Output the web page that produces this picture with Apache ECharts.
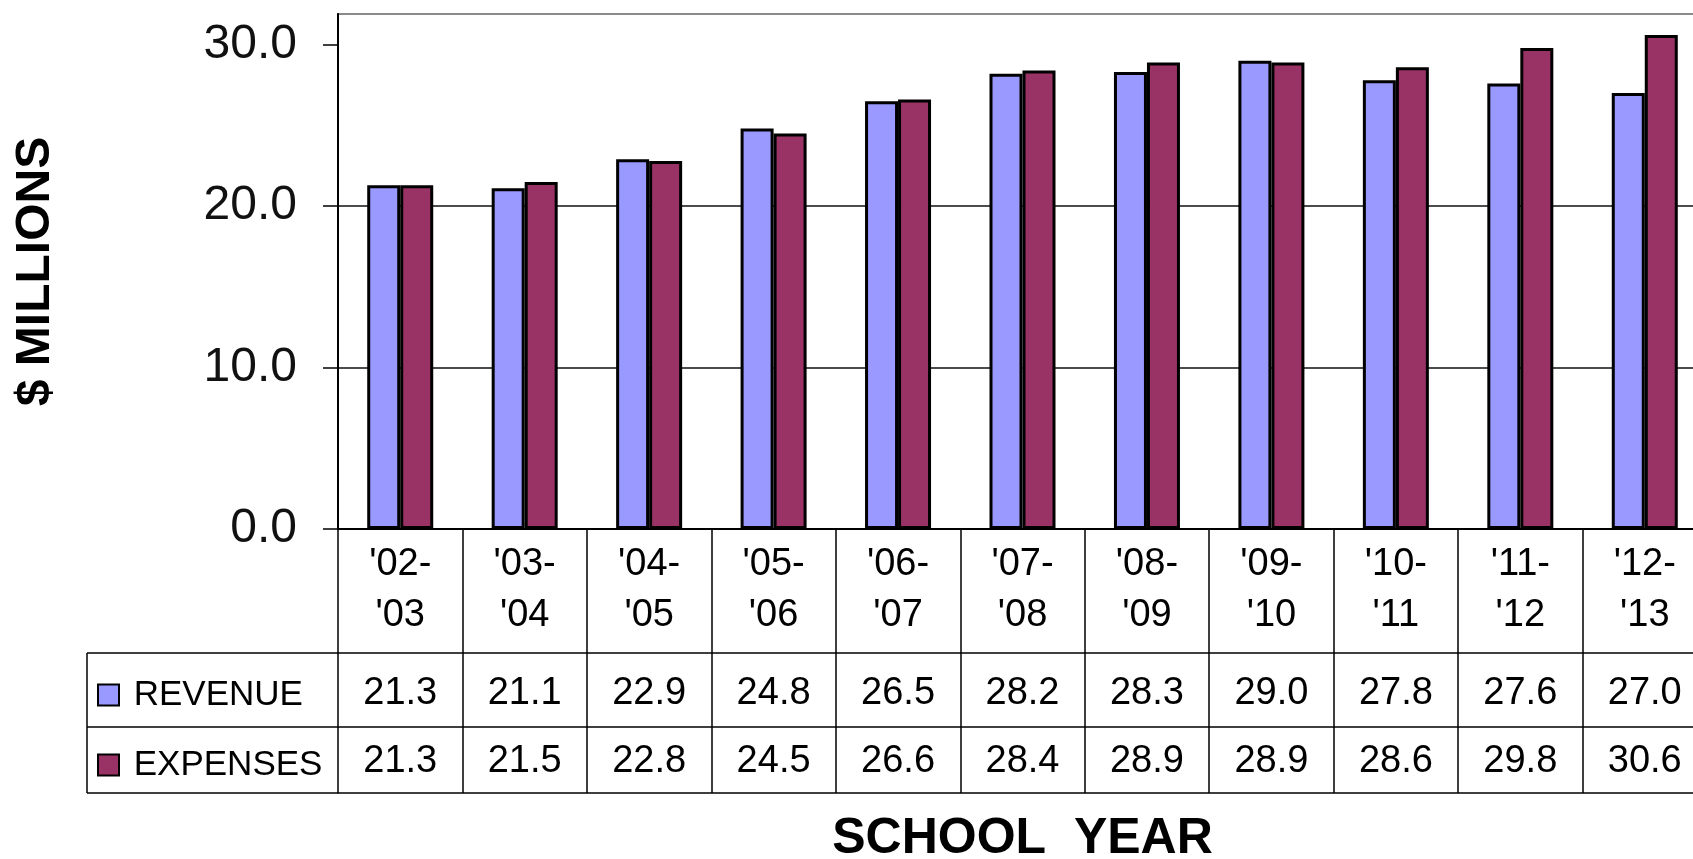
<!DOCTYPE html>
<html>
<head>
<meta charset="utf-8">
<style>
  html, body { margin: 0; padding: 0; background: #fff; }
  #chart { width: 1693px; height: 859px; }
</style>
<script src="https://cdn.jsdelivr.net/npm/echarts@6/dist/echarts.min.js"></script>
</head>
<body>
<div id="chart"></div>
<script>
const categories = ["'02-\n'03", "'03-\n'04", "'04-\n'05", "'05-\n'06", "'06-\n'07", "'07-\n'08", "'08-\n'09", "'09-\n'10", "'10-\n'11", "'11-\n'12", "'12-\n'13"];
const revenue = [21.3, 21.1, 22.9, 24.8, 26.5, 28.2, 28.3, 29.0, 27.8, 27.6, 27.0];
const expenses = [21.3, 21.5, 22.8, 24.5, 26.6, 28.4, 28.9, 28.9, 28.6, 29.8, 30.6];
const yTicks = [0, 10, 20, 30];
const seriesNames = ['REVENUE', 'EXPENSES'];

const FONT = '"Liberation Sans", Arial, sans-serif';
const chart = echarts.init(document.getElementById('chart'), null, { renderer: 'canvas' });

const tableX0 = 87, axisX = 338;
const rowLines = [653, 727, 793];

const option = {
  backgroundColor: '#ffffff',
  animation: false,
  textStyle: { fontFamily: FONT },
  grid: {
    left: axisX, top: 14, right: -14, bottom: 330,
    containLabel: false, outerBoundsMode: 'none',
    show: true, borderColor: '#8a8a8a', borderWidth: 2, backgroundColor: 'transparent'
  },
  legend: {
    orient: 'vertical',
    left: 97, top: 677,
    padding: 0,
    itemWidth: 21, itemHeight: 21,
    itemGap: 34,
    icon: 'rect',
    data: seriesNames,
    formatter: name => '\u00A0' + name,
    textStyle: { fontFamily: FONT, fontSize: 35, lineHeight: 36, color: '#000' }
  },
  xAxis: [
    {
      type: 'category', data: categories, position: 'bottom',
      axisLine: { show: true, lineStyle: { color: '#000', width: 2 } },
      axisTick: { show: true, length: 264, lineStyle: { color: '#000', width: 1.5 } },
      axisLabel: { interval: 0, fontFamily: FONT, fontSize: 38, lineHeight: 51, margin: 10, color: '#000' },
      splitLine: { show: false }
    },
    {
      type: 'category', data: categories, position: 'bottom', offset: rowLines[0] - 529,
      axisLine: { show: true, lineStyle: { color: '#000', width: 1.5 } },
      axisTick: { show: false },
      axisLabel: { interval: 0, fontFamily: FONT, fontSize: 38, lineHeight: 38, margin: 22, color: '#000',
        formatter: (v, i) => revenue[i].toFixed(1) }
    },
    {
      type: 'category', data: categories, position: 'bottom', offset: rowLines[1] - 529,
      axisLine: { show: true, lineStyle: { color: '#000', width: 1.5 } },
      axisTick: { show: false },
      axisLabel: { interval: 0, fontFamily: FONT, fontSize: 38, lineHeight: 38, margin: 16, color: '#000',
        formatter: (v, i) => expenses[i].toFixed(1) }
    },
    {
      type: 'category', data: categories, position: 'bottom', offset: rowLines[2] - 529,
      axisLine: { show: true, lineStyle: { color: '#000', width: 1.5 } },
      axisTick: { show: false },
      axisLabel: { show: false },
      name: 'SCHOOL  YEAR', nameLocation: 'middle', nameGap: 21,
      nameTextStyle: { fontFamily: FONT, fontSize: 50, fontWeight: 'bold', color: '#000', lineHeight: 50 }
    }
  ],
  yAxis: {
    type: 'value', min: 0, max: 31.9, interval: 10,
    axisLine: { show: true, lineStyle: { color: '#000', width: 2 } },
    axisTick: { show: true, length: 15, customValues: yTicks, lineStyle: { color: '#000', width: 1.5 } },
    axisLabel: { customValues: yTicks, fontFamily: FONT, fontSize: 48, margin: 41, color: '#111',
      formatter: v => Number(v).toFixed(1) },
    splitLine: { show: true, showMaxLine: false, lineStyle: { color: '#111', width: 1.5 } },
    name: '$ MILLIONS', nameLocation: 'middle', nameRotate: 90, nameGap: 278,
    nameTextStyle: { fontFamily: FONT, fontSize: 48, fontWeight: 'bold', color: '#000' }
  },
  series: [
    {
      name: seriesNames[0], type: 'bar', data: revenue, barWidth: 33, barGap: '0%',
      itemStyle: { color: '#9999FF', borderColor: '#000', borderWidth: 3 }
    },
    {
      name: seriesNames[1], type: 'bar', data: expenses, barWidth: 33, barGap: '0%',
      itemStyle: { color: '#993366', borderColor: '#000', borderWidth: 3 }
    }
  ],
  graphic: [
    { type: 'line', shape: { x1: tableX0, y1: rowLines[0], x2: axisX, y2: rowLines[0] }, style: { stroke: '#000', lineWidth: 1.5 } },
    { type: 'line', shape: { x1: tableX0, y1: rowLines[1], x2: axisX, y2: rowLines[1] }, style: { stroke: '#000', lineWidth: 1.5 } },
    { type: 'line', shape: { x1: tableX0, y1: rowLines[2], x2: axisX, y2: rowLines[2] }, style: { stroke: '#000', lineWidth: 1.5 } },
    { type: 'line', shape: { x1: tableX0, y1: rowLines[0], x2: tableX0, y2: rowLines[2] }, style: { stroke: '#000', lineWidth: 1.5 } }
  ]
};
chart.setOption(option);
</script>
</body>
</html>
